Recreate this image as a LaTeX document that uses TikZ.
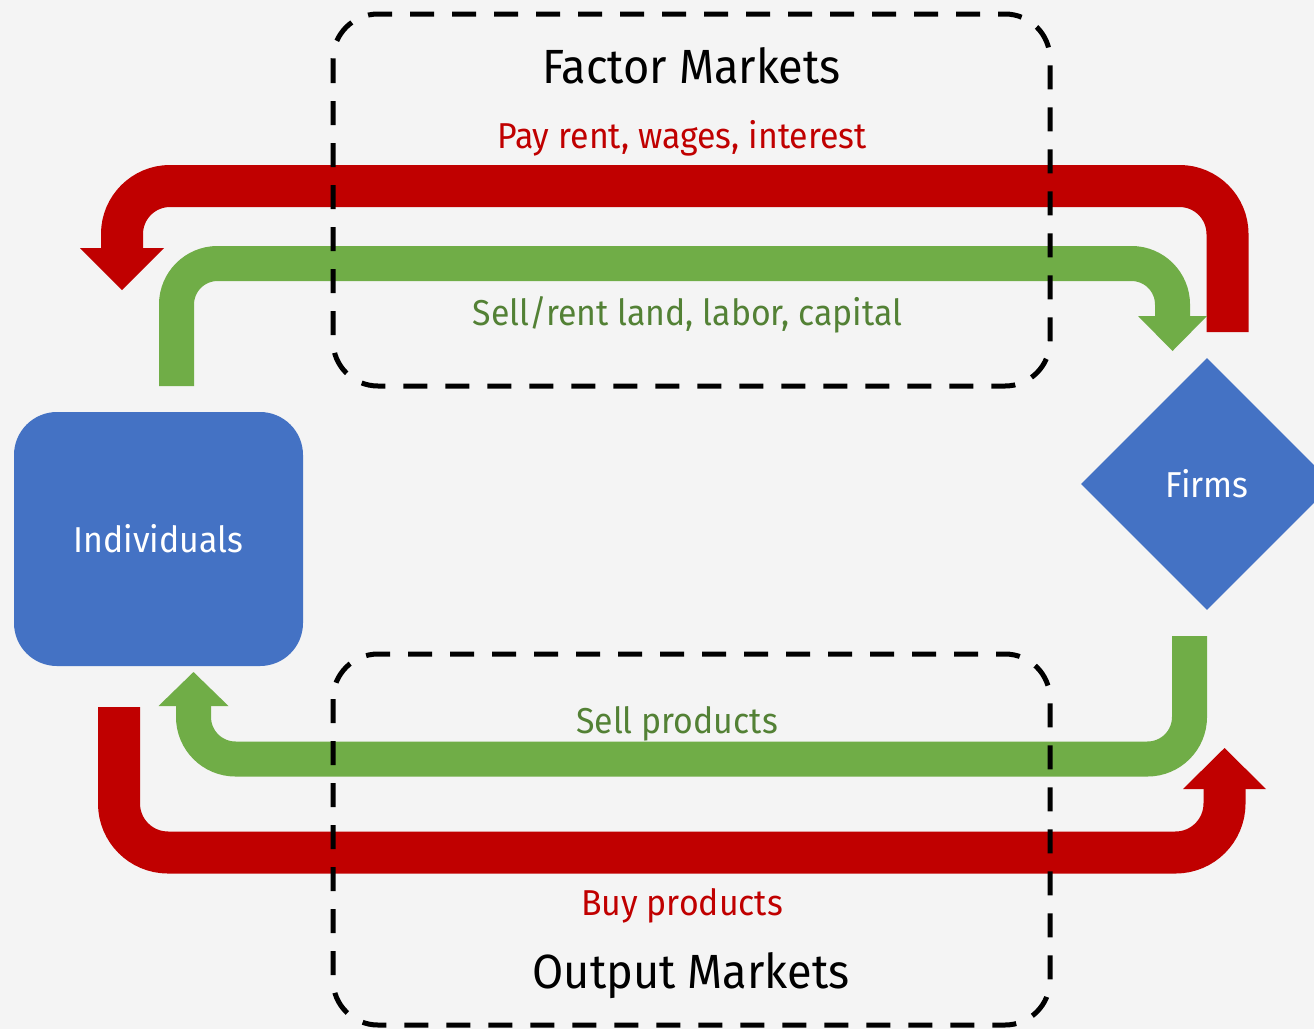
\documentclass[tikz,border=0pt]{standalone}
\usepackage{fontspec}
\setmainfont{Fira Sans}[FakeStretch=0.94]
\usetikzlibrary{calc,shapes.geometric}
\definecolor{bgc}{HTML}{F4F4F4}
\definecolor{redc}{HTML}{C00000}
\definecolor{greenc}{HTML}{70AD47}
\definecolor{greentext}{HTML}{538135}
\definecolor{bluec}{HTML}{4472C4}
\begin{document}
\begin{tikzpicture}[x=1pt,y=-1pt,
  redflow/.style={draw=redc,line width=42pt},
  greenflow/.style={draw=greenc,line width=35pt},
  marketbox/.style={draw=black,line width=5pt,dash pattern=on 24pt off 18pt,rounded corners=45pt},
  title/.style={anchor=base,font=\fontsize{48}{56}\selectfont,text=black,inner sep=0pt},
  redlabel/.style={anchor=base,font=\fontsize{36}{42}\selectfont,text=redc,inner sep=0pt},
  greenlabel/.style={anchor=base,font=\fontsize{36}{42}\selectfont,text=greentext,inner sep=0pt},
  agent/.style={fill=bluec,text=white,font=\fontsize{36}{42}\selectfont,inner sep=0pt}
]
\useasboundingbox (0,0) rectangle (1314,1029);
\clip (0,0) rectangle (1314,1029);
\fill[bgc] (0,0) rectangle (1314,1029);

% agents
\node[agent,rectangle,rounded corners=43pt,minimum width=289pt,minimum height=254pt] (ind) at (158.5,539) {Individuals};
\node[agent,diamond,minimum width=252pt,minimum height=252pt] (firms) at (1207,484) {Firms};

% arrow end points
\coordinate (r1s) at (1227.5,332);
\coordinate (r1b) at (122,248);
\coordinate (g1s) at (176.5,386);
\coordinate (g1b) at (1172.5,316);
\coordinate (g2s) at (1189.5,636);
\coordinate (g2b) at (193.5,706);
\coordinate (r2s) at (119,707);
\coordinate (r2b) at (1224.5,789);

% top red: firms pay individuals
\draw[redflow,rounded corners=48pt] (r1s) -- (1227.5,186) -- (122,186) -- ($(r1b)+(0,1)$);
\fill[redc] ($(r1b)+(-42,0)$) -- ($(r1b)+(42,0)$) -- ($(r1b)+(0,42)$) -- cycle;

% top green: individuals sell factors
\draw[greenflow,rounded corners=41pt] (g1s) -- (176.5,263.5) -- (1172.5,263.5) -- ($(g1b)+(0,1)$);
\fill[greenc] ($(g1b)+(-34.5,0)$) -- ($(g1b)+(34.5,0)$) -- ($(g1b)+(0,35)$) -- cycle;

% bottom green: firms sell products
\draw[greenflow,rounded corners=42pt] (g2s) -- (1189.5,759) -- (193.5,759) -- ($(g2b)+(0,-1)$);
\fill[greenc] ($(g2b)+(-35,0)$) -- ($(g2b)+(35,0)$) -- ($(g2b)+(0,-34)$) -- cycle;

% bottom red: individuals buy products
\draw[redflow,rounded corners=49pt] (r2s) -- (119,852.5) -- (1224.5,852.5) -- ($(r2b)+(0,-1)$);
\fill[redc] ($(r2b)+(-41.5,0)$) -- ($(r2b)+(41.5,0)$) -- ($(r2b)+(0,-41)$) -- cycle;

% market boxes
\draw[marketbox] (333,14) rectangle (1050,386);
\draw[marketbox] (333,654) rectangle (1050,1025);

% labels
\node[title] (factor) at (691.5,83) {Factor Markets};
\node[redlabel] (pay) at (682,148) {Pay rent, wages, interest};
\node[greenlabel] (sellf) at (687.5,325) {Sell/rent land, labor, capital};
\node[greenlabel] (sellp) at (677,733) {Sell products};
\node[redlabel] (buy) at (682,915) {Buy products};
\node[title] (output) at (691,988) {Output Markets};
\end{tikzpicture}
\end{document}
